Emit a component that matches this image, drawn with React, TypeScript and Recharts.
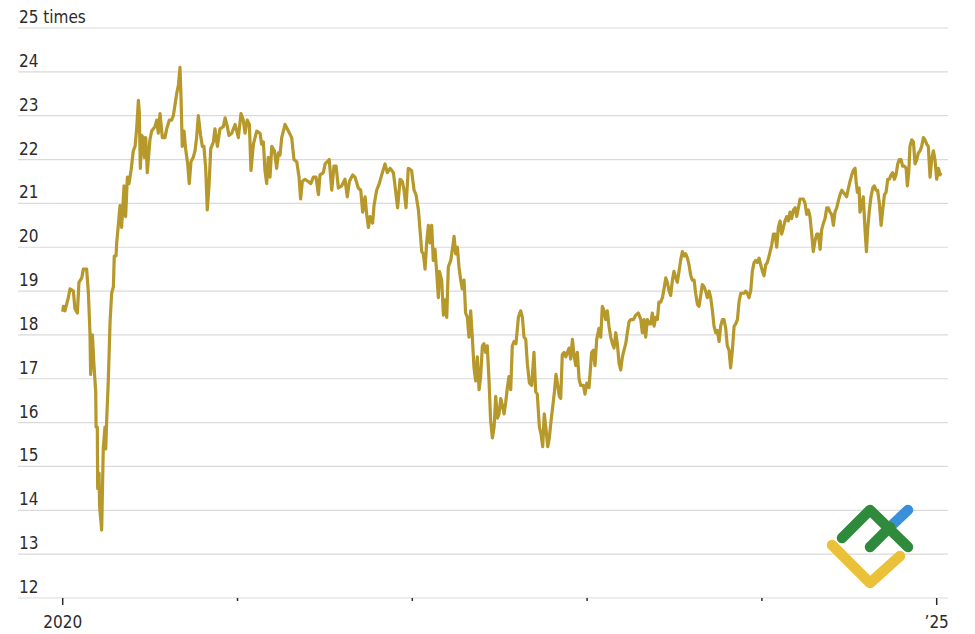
import { LineChart, Line, XAxis, YAxis, CartesianGrid } from "recharts";

// Forward P/E ratio (x = years since start of 2020)
const yearsSince2020 = [
  0.0, 0.004, 0.013, 0.032, 0.042, 0.061, 0.07, 0.084, 0.093, 0.109, 0.118, 0.137, 0.147, 0.156, 0.16, 0.17,
  0.179, 0.189, 0.191, 0.198, 0.2, 0.208, 0.211, 0.223, 0.232, 0.242, 0.246, 0.252, 0.261, 0.271, 0.28, 0.29,
  0.295, 0.305, 0.309, 0.318, 0.328, 0.337, 0.351, 0.36, 0.37, 0.379, 0.391, 0.404, 0.414, 0.423, 0.433, 0.438,
  0.444, 0.452, 0.461, 0.467, 0.475, 0.484, 0.499, 0.509, 0.528, 0.538, 0.547, 0.557, 0.57, 0.585, 0.595, 0.61,
  0.623, 0.633, 0.652, 0.662, 0.671, 0.677, 0.684, 0.694, 0.703, 0.715, 0.724, 0.734, 0.747, 0.757, 0.766, 0.776,
  0.789, 0.799, 0.808, 0.818, 0.827, 0.837, 0.847, 0.862, 0.871, 0.885, 0.9, 0.919, 0.929, 0.942, 0.951,
  // 2021
  0.967, 0.986, 1.005, 1.02, 1.033, 1.043, 1.056, 1.068, 1.077, 1.091, 1.11, 1.129, 1.138, 1.148, 1.157, 1.167,
  1.176, 1.186, 1.196, 1.211, 1.224, 1.234, 1.243, 1.253, 1.272, 1.291, 1.31, 1.323, 1.339, 1.352, 1.361, 1.371,
  1.386, 1.405, 1.419, 1.434, 1.449, 1.463, 1.472, 1.491, 1.501, 1.514, 1.525, 1.539, 1.552, 1.564, 1.577, 1.596,
  1.615, 1.628, 1.64, 1.659, 1.672, 1.691, 1.705, 1.716, 1.73, 1.739, 1.749, 1.758, 1.773, 1.781, 1.796, 1.811,
  1.825, 1.844, 1.857, 1.873, 1.892, 1.907, 1.916, 1.93, 1.943, 1.953, 1.964, 1.977, 1.996, 2.01, 2.021, 2.035,
  // 2022
  2.04, 2.054, 2.063, 2.073, 2.082, 2.092, 2.101, 2.111, 2.12, 2.13, 2.14, 2.149, 2.155, 2.168, 2.178, 2.187,
  2.197, 2.206, 2.22, 2.231, 2.239, 2.248, 2.258, 2.267, 2.277, 2.286, 2.296, 2.305, 2.315, 2.324, 2.334, 2.344,
  2.353, 2.363, 2.372, 2.382, 2.391, 2.401, 2.41, 2.42, 2.429, 2.439, 2.448, 2.458, 2.468, 2.477, 2.487, 2.496,
  2.506, 2.515, 2.525, 2.534, 2.544, 2.553, 2.563, 2.572, 2.582, 2.593, 2.607, 2.62, 2.63, 2.639, 2.649, 2.658,
  2.67, 2.683, 2.696, 2.706, 2.715, 2.727, 2.736, 2.746, 2.755, 2.765, 2.775, 2.784, 2.794, 2.803, 2.813, 2.822,
  2.832, 2.841, 2.849, 2.858, 2.868, 2.878, 2.887, 2.897, 2.906, 2.916, 2.925, 2.935, 2.944, 2.954, 2.963, 2.979,
  2.988, 2.998, 3.011,
  // 2023
  3.026, 3.036, 3.045, 3.055, 3.068, 3.078, 3.087, 3.097, 3.106, 3.116, 3.125, 3.135, 3.145, 3.154, 3.164, 3.173,
  3.183, 3.192, 3.202, 3.211, 3.221, 3.23, 3.24, 3.249, 3.265, 3.278, 3.293, 3.307, 3.316, 3.326, 3.335, 3.345,
  3.354, 3.364, 3.373, 3.383, 3.392, 3.402, 3.411, 3.421, 3.431, 3.44, 3.45, 3.459, 3.469, 3.478, 3.488, 3.497,
  3.507, 3.516, 3.526, 3.535, 3.545, 3.555, 3.564, 3.574, 3.583, 3.593, 3.602, 3.612, 3.621, 3.631, 3.64, 3.65,
  3.659, 3.669, 3.678, 3.688, 3.698, 3.707, 3.717, 3.726, 3.736, 3.745, 3.755, 3.764, 3.774, 3.783, 3.793, 3.802,
  3.812, 3.821, 3.831, 3.841, 3.85, 3.86, 3.869, 3.879, 3.888, 3.898, 3.907, 3.917, 3.926, 3.936, 3.945, 3.955,
  3.964, 3.974, 3.984, 3.993, 4.003, 4.012, 4.022, 4.031, 4.041, 4.05,
  // 2024
  4.056, 4.066, 4.075, 4.085, 4.094, 4.104, 4.113, 4.123, 4.132, 4.142, 4.151, 4.161, 4.17, 4.18, 4.19, 4.199,
  4.209, 4.218, 4.228, 4.237, 4.247, 4.256, 4.266, 4.275, 4.285, 4.294, 4.304, 4.314, 4.323, 4.333, 4.342, 4.352,
  4.361, 4.371, 4.38, 4.39, 4.399, 4.409, 4.418, 4.428, 4.437, 4.447, 4.457, 4.466, 4.476, 4.485, 4.495, 4.504,
  4.514, 4.523, 4.533, 4.539, 4.546, 4.556, 4.561, 4.571, 4.58, 4.59, 4.598, 4.605, 4.615, 4.624, 4.634, 4.643,
  4.653, 4.662, 4.672, 4.682, 4.691, 4.701, 4.71, 4.72, 4.729, 4.739, 4.748, 4.758, 4.767, 4.777, 4.786, 4.796,
  4.805, 4.815, 4.825, 4.832, 4.84, 4.847, 4.857, 4.867, 4.876, 4.886, 4.895, 4.905, 4.914, 4.924, 4.933, 4.943,
  4.952, 4.962, 4.971, 4.981, 4.99, 5.0, 5.01, 5.019, 5.025,
];

const peRatio = [
  18.53, 18.65, 18.55, 18.85, 19.05, 19.0, 18.6, 18.5, 19.2, 19.3, 19.5, 19.5, 18.95, 18.05, 17.1, 18.0,
  17.3, 16.7, 15.9, 15.9, 14.5, 14.85, 14.1, 13.55, 15.4, 15.9, 15.4, 16.1, 16.97, 18.3, 18.95, 19.1,
  19.8, 19.8, 20.1, 20.5, 20.95, 20.45, 21.4, 20.7, 21.6, 21.45, 21.75, 22.2, 22.3, 22.7, 23.35, 23.1,
  21.8, 22.55, 22.5, 22.05, 22.5, 21.7, 22.45, 22.65, 22.75, 22.9, 22.6, 23.05, 22.5, 22.5, 22.7, 22.9,
  22.9, 23.0, 23.5, 23.7, 24.1, 23.4, 22.3, 22.65, 22.25, 21.9, 21.45, 21.95, 22.05, 22.2, 22.5, 23.0,
  22.55, 22.3, 22.3, 21.8, 20.85, 21.4, 22.25, 22.4, 22.7, 22.3, 22.7, 22.75, 22.95, 22.75, 22.55,
  // 2021
  22.6, 22.8, 22.5, 23.05, 22.9, 22.6, 22.9, 22.8, 21.75, 22.35, 22.65, 22.6, 22.35, 22.4, 21.75, 21.45,
  22.05, 21.6, 22.3, 22.2, 21.8, 22.15, 22.1, 22.5, 22.8, 22.65, 22.5, 22.0, 21.95, 21.6, 21.1, 21.5,
  21.55, 21.5, 21.45, 21.6, 21.6, 21.2, 21.65, 21.7, 21.9, 21.95, 22.0, 21.3, 21.85, 21.85, 21.35, 21.4,
  21.55, 21.15, 21.5, 21.65, 21.6, 21.35, 21.3, 20.8, 21.15, 20.75, 20.45, 20.7, 20.55, 20.95, 21.3, 21.45,
  21.65, 21.9, 21.7, 21.8, 21.7, 21.2, 20.9, 21.55, 21.5, 21.3, 20.9, 21.8, 21.75, 21.3, 21.2, 20.85,
  // 2022
  20.6, 19.9, 19.85, 19.5, 20.1, 20.5, 20.1, 20.5, 19.7, 19.95, 19.4, 18.85, 19.45, 19.25, 18.45, 18.8,
  18.4, 19.55, 19.7, 20.0, 20.25, 19.85, 20.0, 19.55, 19.25, 19.05, 19.25, 18.5, 18.4, 17.95, 18.55, 17.9,
  17.25, 16.95, 17.5, 16.75, 17.05, 17.75, 17.8, 17.6, 17.75, 16.95, 16.05, 15.65, 15.9, 16.6, 16.1, 16.2,
  16.55, 16.4, 16.2, 16.45, 16.8, 17.05, 16.75, 17.75, 17.85, 17.8, 18.4, 18.55, 18.4, 17.95, 17.9, 17.35,
  16.9, 16.85, 17.6, 16.7, 16.65, 15.9, 15.75, 15.45, 16.2, 15.85, 15.45, 15.65, 16.05, 16.35, 16.7, 17.1,
  16.85, 16.6, 16.55, 17.55, 17.6, 17.5, 17.6, 17.7, 17.45, 17.9, 17.55, 17.3, 17.6, 17.0, 16.85, 16.85,
  16.65, 16.9, 16.8,
  // 2023
  17.6, 17.65, 17.3, 17.9, 18.15, 17.95, 18.65, 18.55, 18.35, 18.55, 18.2, 17.95, 17.8, 17.7, 18.05, 17.8,
  17.35, 17.2, 17.5, 17.65, 17.8, 18.05, 18.3, 18.35, 18.35, 18.45, 18.5, 18.35, 18.05, 18.35, 17.95, 18.35,
  18.25, 18.25, 18.5, 18.2, 18.4, 18.35, 18.75, 18.75, 18.85, 19.05, 19.3, 19.2, 19.0, 18.9, 19.25, 19.45,
  19.3, 19.2, 19.45, 19.7, 19.9, 19.8, 19.85, 19.75, 19.6, 19.35, 19.25, 19.25, 18.95, 18.7, 18.65, 18.9,
  19.15, 19.1, 19.0, 18.85, 19.0, 18.85, 18.55, 18.2, 18.05, 18.1, 17.85, 18.2, 18.35, 18.35, 18.15, 17.75,
  17.65, 17.25, 17.65, 18.2, 18.25, 18.35, 18.75, 18.95, 18.95, 18.95, 19.0, 18.95, 18.85, 19.0, 19.45, 19.65,
  19.7, 19.65, 19.75, 19.6, 19.45, 19.35, 19.6, 19.65, 19.8, 19.95,
  // 2024
  20.05, 20.3, 20.3, 20.0, 20.45, 20.6, 20.3, 20.45, 20.6, 20.7, 20.6, 20.8, 20.65, 20.85, 20.9, 20.7,
  20.9, 21.1, 21.1, 21.1, 21.0, 20.75, 20.85, 20.7, 20.3, 19.9, 20.15, 20.3, 20.3, 19.95, 20.4, 20.55,
  20.65, 20.9, 20.9, 20.8, 20.75, 20.5, 20.8, 20.9, 21.05, 21.2, 21.3, 21.25, 21.2, 21.15, 21.35, 21.5,
  21.65, 21.75, 21.8, 21.5, 21.25, 21.35, 20.8, 20.95, 21.15, 20.4, 19.9, 20.4, 20.85, 21.15, 21.35, 21.4,
  21.3, 21.3, 21.0, 20.5, 20.85, 21.2, 21.25, 21.55, 21.55, 21.65, 21.7, 21.55, 21.65, 21.9, 22.0, 22.0,
  21.85, 21.85, 21.8, 21.4, 21.7, 22.3, 22.45, 22.4, 21.9, 22.0, 22.15, 22.2, 22.3, 22.5, 22.45, 22.35,
  22.3, 21.6, 22.0, 22.2, 22.0, 21.55, 21.8, 21.65, 21.7,
];

const Y_TICKS = [12, 13, 14, 15, 16, 17, 18, 19, 20, 21, 22, 23, 24, 25];
const X_TICKS = [0, 1, 2, 3, 4, 5];
const X_LABELS: Record<number, string> = { 0: "2020", 5: "\u201925" };

const FONT = '"Liberation Sans Narrow", "DejaVu Sans Condensed", "Liberation Sans", sans-serif';
const INK = "#2b2b2b";
const GRID = "#dadada";
const GOLD = "#B6982B";

const data = yearsSince2020.map((t, i) => ({ t, pe: peRatio[i] }));

function YTick(props: any) {
  const { x, y, payload } = props;
  const v = payload.value;
  return (
    <text x={x + 1} y={y - 5} fill={INK} fontSize={17} fontFamily={FONT} textAnchor="start">
      {v === 25 ? "25 times" : v}
    </text>
  );
}

function XTick(props: any) {
  const { x, y, payload } = props;
  const label = X_LABELS[payload.value];
  return (
    <g>
      <line x1={x} x2={x} y1={y} y2={y + (label ? 7 : 3)} stroke={INK} strokeWidth={1.5} />
      {label && (
        <text x={x} y={y + 30} fill={INK} fontSize={17} fontFamily={FONT} textAnchor="middle">
          {label}
        </text>
      )}
    </g>
  );
}

// LiteFinance watermark in the lower right corner
function Watermark() {
  return (
    <svg width={975} height={634} style={{ position: "absolute", left: 0, top: 0, pointerEvents: "none" }}>
      <g fill="none" strokeWidth={10.5} strokeLinecap="round" strokeLinejoin="round">
        <polyline points="832,545 870,583 900,556" stroke="#EBC13A" />
        <polyline points="890,527 908,510" stroke="#3A8FDB" />
        <polyline points="842,538 870,510 908,547" stroke="#2F8B3B" />
        <polyline points="870,547 890,527" stroke="#2F8B3B" />
      </g>
    </svg>
  );
}

export default function App() {
  return (
    <div style={{ position: "absolute", left: 0, top: 0, width: 975, height: 634, background: "#fff" }}>
      <LineChart width={975} height={634} data={data} margin={{ top: 28, right: 27, left: 17, bottom: 6 }}>
        <CartesianGrid horizontal vertical={false} stroke={GRID} strokeWidth={1.2} />
        <XAxis
          dataKey="t"
          type="number"
          domain={[-0.2557, 5.0646]}
          ticks={X_TICKS}
          interval={0}
          height={30}
          tickSize={0}
          tickMargin={0}
          axisLine={false}
          tickLine={false}
          tick={<XTick />}
        />
        <YAxis
          type="number"
          domain={[12, 25]}
          ticks={Y_TICKS}
          interval={0}
          width={1}
          tickSize={0}
          tickMargin={0}
          axisLine={false}
          tickLine={false}
          tick={<YTick />}
        />
        <Line
          type="linear"
          dataKey="pe"
          stroke={GOLD}
          strokeWidth={3.2}
          strokeLinejoin="round"
          dot={false}
          isAnimationActive={false}
        />
      </LineChart>
      <Watermark />
    </div>
  );
}
